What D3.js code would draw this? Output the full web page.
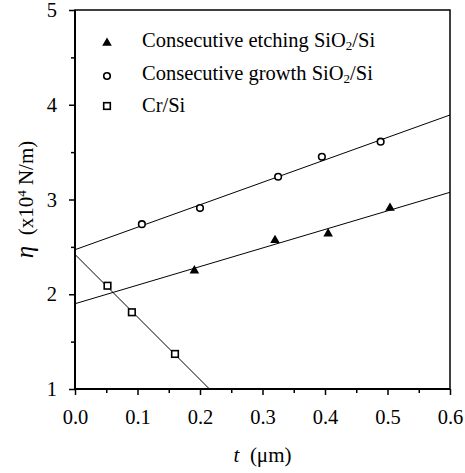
<html>
<head>
<script src="https://d3js.org/d3.v7.min.js"></script>
<style>
  body { margin: 0; background: #fff; }
</style>
</head>
<body>
<div id="chart"></div>
<script>
// data
var etchT   = [0.191, 0.320, 0.405, 0.504];
var etchEta = [2.26, 2.58, 2.65, 2.92];
var growT   = [0.107, 0.200, 0.325, 0.395, 0.489];
var growEta = [2.74, 2.91, 3.24, 3.45, 3.61];
var crT     = [0.052, 0.091, 0.160];
var crEta   = [2.09, 1.81, 1.37];
// fitted lines as drawn: [intercept, slope]
var etchFit = [1.90, 1.96];
var growFit = [2.47, 2.37];
var crFit   = [2.42, -6.60];
var xTicks = [0, 0.1, 0.2, 0.3, 0.4, 0.5, 0.6];
var yTicks = [1, 2, 3, 4, 5];

var serif = "Liberation Serif";

var width = 465, height = 473;
var margin = { top: 10, right: 15, bottom: 84, left: 75 };
var w = width - margin.left - margin.right,
    h = height - margin.top - margin.bottom;

var x = d3.scaleLinear().domain([0, 0.6]).range([0, w]);
var y = d3.scaleLinear().domain([1, 5]).range([h, 0]);

var svg = d3.select("#chart").append("svg")
    .attr("width", width).attr("height", height)
    .attr("font-family", serif);
var g = svg.append("g")
    .attr("transform", "translate(" + margin.left + "," + margin.top + ")");

g.append("clipPath").attr("id", "clip")
    .append("rect").attr("width", w).attr("height", h);

// minor ticks
var xMinor = d3.range(0.05, 0.6, 0.1);
var yMinor = d3.range(1.5, 5, 1);
g.append("g").attr("transform", "translate(0," + h + ")")
    .call(d3.axisBottom(x).tickValues(xMinor).tickSize(4).tickFormat(""))
    .call(function(a) { a.select(".domain").remove(); a.selectAll("line").attr("stroke-width", 1.5); });
g.append("g")
    .call(d3.axisLeft(y).tickValues(yMinor).tickSize(4).tickFormat(""))
    .call(function(a) { a.select(".domain").remove(); a.selectAll("line").attr("stroke-width", 1.5); });

// major axes
var xAxis = g.append("g").attr("transform", "translate(0," + h + ")")
    .call(d3.axisBottom(x).tickValues(xTicks).tickSize(6).tickPadding(14).tickFormat(d3.format(".1f")));
var yAxis = g.append("g")
    .call(d3.axisLeft(y).tickValues(yTicks).tickSize(6).tickPadding(12).tickFormat(d3.format("d")));
[xAxis, yAxis].forEach(function(a) {
    a.attr("font-family", serif).attr("font-size", 20.5);
    a.select(".domain").remove();
    a.selectAll("line").attr("stroke-width", 1.5);
});

// frame
g.append("rect").attr("width", w).attr("height", h)
    .attr("fill", "none").attr("stroke", "#000").attr("stroke-width", 1.5);
g.append("line").attr("x1", 0).attr("x2", 0).attr("y1", 0).attr("y2", h)
    .attr("stroke", "#000").attr("stroke-width", 2);
g.append("line").attr("x1", 0).attr("x2", w).attr("y1", h).attr("y2", h)
    .attr("stroke", "#000").attr("stroke-width", 2);

// fit lines
var line = d3.line().x(function(d) { return x(d[0]); }).y(function(d) { return y(d[1]); });
[etchFit, growFit, crFit].forEach(function(f) {
    var pts = [0, 0.6].map(function(t) { return [t, f[0] + f[1] * t]; });
    g.append("path").attr("d", line(pts)).attr("clip-path", "url(#clip)")
        .attr("fill", "none").attr("stroke", "#000").attr("stroke-width", 1);
});

var tri = d3.symbol().type(d3.symbolTriangle).size(40);
function drawTri(sel, cx, cy) {
    sel.append("path").attr("d", tri()).attr("transform", "translate(" + cx + "," + (cy + 1) + ")")
        .attr("fill", "#000");
}
function drawCircle(sel, cx, cy) {
    sel.append("circle").attr("cx", cx).attr("cy", cy).attr("r", 3.3)
        .attr("fill", "#fff").attr("stroke", "#000").attr("stroke-width", 1.6);
}
function drawSquare(sel, cx, cy) {
    sel.append("rect").attr("x", cx - 3.3).attr("y", cy - 3.3).attr("width", 6.6).attr("height", 6.6)
        .attr("fill", "#fff").attr("stroke", "#000").attr("stroke-width", 1.6);
}

etchT.forEach(function(t, i) { drawTri(g, x(t), y(etchEta[i])); });
growT.forEach(function(t, i) { drawCircle(g, x(t), y(growEta[i])); });
crT.forEach(function(t, i) { drawSquare(g, x(t), y(crEta[i])); });

// legend
var leg = svg.append("g");
var legY = [47, 80, 112];
drawTri(leg, 107, legY[0] - 5);
drawCircle(leg, 107, legY[1] - 4);
drawSquare(leg, 107, legY[2] - 6);
function legText(yy, parts) {
    var t = leg.append("text").attr("x", 142).attr("y", yy)
        .attr("font-size", 20.5).attr("font-family", serif);
    parts.forEach(function(p) {
        var s = t.append("tspan").text(p[0]);
        if (p[1] === "sub") s.attr("baseline-shift", "-25%").attr("font-size", 13);
    });
}
legText(legY[0], [["Consecutive etching SiO"], ["2", "sub"], ["/Si"]]);
legText(legY[1], [["Consecutive growth SiO"], ["2", "sub"], ["/Si"]]);
legText(legY[2], [["Cr/Si"]]);

// axis titles
var xl = svg.append("text").attr("x", margin.left + w / 2).attr("y", 462)
    .attr("text-anchor", "middle").attr("font-size", 21).attr("font-family", serif);
xl.append("tspan").text("t").attr("font-style", "italic");
xl.append("tspan").text("\u00a0 (\u03bcm)");

var yl = svg.append("text").attr("transform", "translate(33," + (margin.top + h / 2) + ") rotate(-90)")
    .attr("text-anchor", "middle").attr("font-size", 21).attr("font-family", serif);
yl.append("tspan").text("\u03b7").attr("font-style", "italic").attr("font-size", 25);
yl.append("tspan").text("\u00a0 (x10");
yl.append("tspan").text("4").attr("baseline-shift", "super").attr("font-size", 13);
yl.append("tspan").text(" N/m)");
</script>
</body>
</html>
